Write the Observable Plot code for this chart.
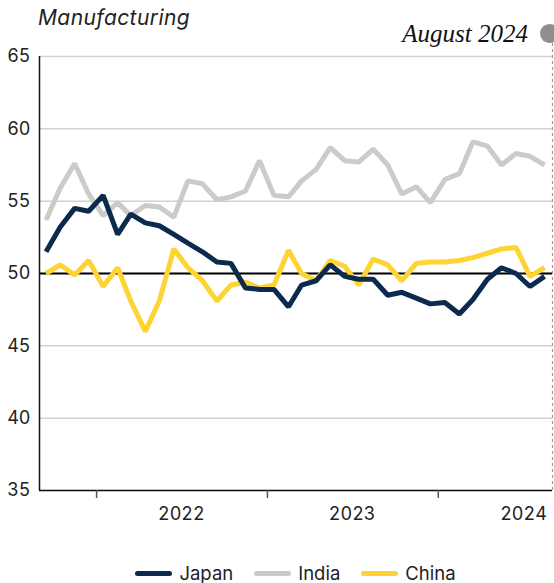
<!DOCTYPE html>
<html><head><meta charset="utf-8">
<script src="https://cdn.jsdelivr.net/npm/d3@7"></script>
<script src="https://cdn.jsdelivr.net/npm/@observablehq/plot@0.6"></script>
<style>
html,body{margin:0;padding:0;background:#fff;}
body{width:554px;height:583px;overflow:hidden;position:relative;font-family:Inter,"Noto Sans",sans-serif;color:#222;}
#title{position:absolute;left:38px;top:7px;font-style:italic;font-size:21px;letter-spacing:0.4px;line-height:1;white-space:nowrap;}
#date{position:absolute;right:26px;top:21px;font-family:"Liberation Serif","DejaVu Serif",serif;font-style:italic;font-size:25px;line-height:1;white-space:nowrap;color:#111;}
#dot{position:absolute;left:540px;top:24px;width:19px;height:19px;border-radius:50%;background:#8f8f8b;}
#chart{position:absolute;left:0;top:44px;}
#legend{position:absolute;top:562px;left:39px;right:2px;height:22px;display:flex;justify-content:center;align-items:center;gap:21px;font-size:18.5px;line-height:22px;}
.item{display:flex;align-items:center;}
.sw{width:37px;height:5px;border-radius:3px;margin-right:7px;}
</style></head><body>
<div id="title">Manufacturing</div>
<div id="date">August 2024</div>
<div id="dot"></div>
<div id="chart"></div>
<div id="legend"></div>
<script>
const months = ["2021-09","2021-10","2021-11","2021-12",
  "2022-01","2022-02","2022-03","2022-04","2022-05","2022-06","2022-07","2022-08","2022-09","2022-10","2022-11","2022-12",
  "2023-01","2023-02","2023-03","2023-04","2023-05","2023-06","2023-07","2023-08","2023-09","2023-10","2023-11","2023-12",
  "2024-01","2024-02","2024-03","2024-04","2024-05","2024-06","2024-07","2024-08"];
const japan = [51.5,53.2,54.5,54.3, 55.4,52.7,54.1,53.5,53.3,52.7,52.1,51.5,50.8,50.7,49.0,48.9,
  48.9,47.7,49.2,49.5,50.6,49.8,49.6,49.6,48.5,48.7,48.3,47.9, 48.0,47.2,48.2,49.6,50.4,50.0,49.1,49.8];
const india = [53.7,55.9,57.6,55.5, 54.0,54.9,54.0,54.7,54.6,53.9,56.4,56.2,55.1,55.3,55.7,57.8,
  55.4,55.3,56.4,57.2,58.7,57.8,57.7,58.6,57.5,55.5,56.0,54.9, 56.5,56.9,59.1,58.8,57.5,58.3,58.1,57.5];
const china = [50.0,50.6,49.9,50.9, 49.1,50.4,48.1,46.0,48.1,51.7,50.4,49.5,48.1,49.2,49.4,49.0,
  49.2,51.6,50.0,49.5,50.9,50.5,49.2,51.0,50.6,49.5,50.7,50.8, 50.8,50.9,51.1,51.4,51.7,51.8,49.8,50.4];
const seriesNames = ["Japan","India","China"];
const seriesColors = ["#0b2a4d","#cccbc7","#fdd433"];
const drawOrder = ["India","China","Japan"];
const yTicks = [35,40,45,50,55,60,65];
const yearTicks = ["2022-01-01","2023-01-01","2024-01-01"];
const yearLabelDates = ["2022-07-01","2023-07-01","2024-07-01"];
const yearLabels = ["2022","2023","2024"];
const xDomain = ["2021-09-01","2024-09-01"];

const parse = d3.utcParse("%Y-%m-%d");
const valuesBy = {Japan: japan, India: india, China: china};
const rows = drawOrder.flatMap(s => months.map((m, i) => ({series: s, date: parse(m + "-15"), value: valuesBy[s][i]})));
const xd = xDomain.map(parse);
const labelMap = new Map(yearLabelDates.map((d, i) => [+parse(d), yearLabels[i]]));

const chart = Plot.plot({
  width: 554, height: 500,
  marginTop: 12, marginBottom: 54, marginLeft: 39, marginRight: 2,
  style: {fontFamily: "Inter, 'Noto Sans', sans-serif", fontSize: "18px", color: "#222", background: "transparent", overflow: "visible"},
  x: {type: "utc", domain: xd},
  y: {domain: [35, 65]},
  color: {domain: seriesNames, range: seriesColors},
  marks: [
    Plot.gridY(yTicks, {stroke: "#d2d2d2", strokeOpacity: 1, strokeWidth: 1.5}),
    Plot.axisY(yTicks, {tickSize: 0, tickPadding: 9, fontSize: 18, label: null, fill: "#222"}),
    Plot.ruleX([xd[1]], {stroke: "#9a9a96", strokeWidth: 1.2, strokeDasharray: "3,3", insetTop: -13}),
    Plot.ruleY([50], {stroke: "#000", strokeWidth: 2}),
    Plot.lineY(rows, {x: "date", y: "value", z: "series", stroke: "series", strokeWidth: 5, strokeLinejoin: "miter", strokeLinecap: "butt"}),
    Plot.ruleY([35], {stroke: "#111", strokeWidth: 1.5}),
    Plot.ruleX([xd[0]], {stroke: "#111", strokeWidth: 1.5}),
    Plot.axisX(yearTicks.map(parse), {tickSize: 8, tickFormat: () => "", stroke: "#555", strokeWidth: 1.5, label: null}),
    Plot.axisX(yearLabelDates.map(parse), {tickSize: 0, tickPadding: 17, tickFormat: d => labelMap.get(+d), fontSize: 18, fill: "#222", label: null})
  ]
});
document.getElementById("chart").appendChild(chart);

const legend = document.getElementById("legend");
seriesNames.forEach((s, i) => {
  const it = document.createElement("div"); it.className = "item";
  const sw = document.createElement("span"); sw.className = "sw"; sw.style.background = seriesColors[i];
  const t = document.createElement("span"); t.textContent = s;
  it.appendChild(sw); it.appendChild(t); legend.appendChild(it);
});
</script>
</body></html>
